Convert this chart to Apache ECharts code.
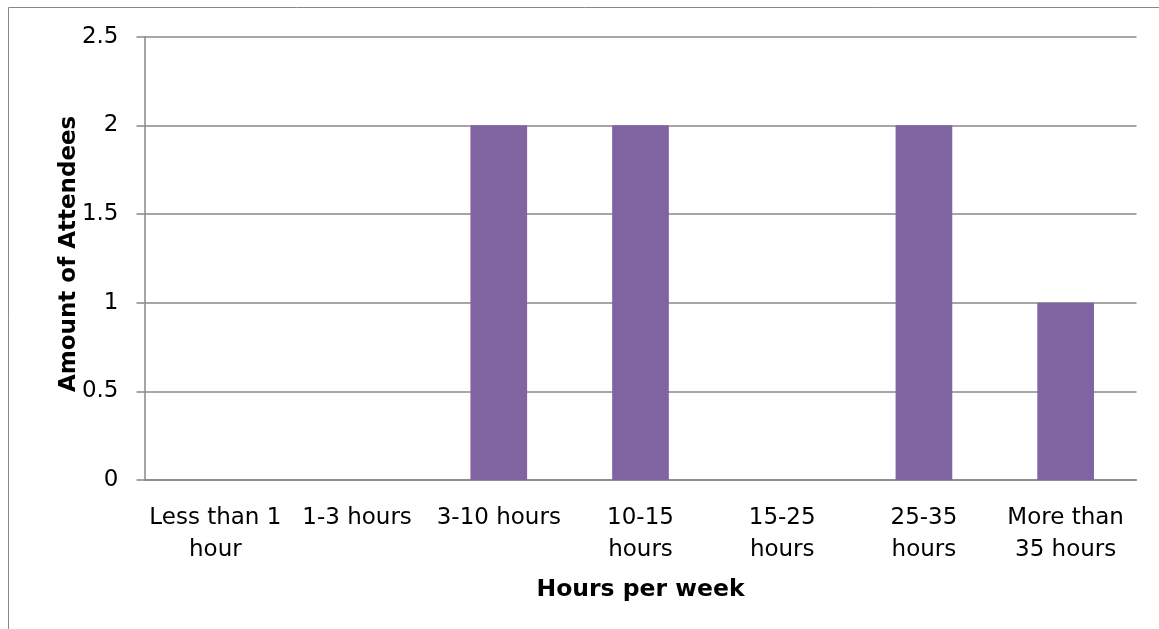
<!DOCTYPE html>
<html>
<head>
<meta charset="utf-8">
<script src="https://cdn.jsdelivr.net/npm/echarts@6/dist/echarts.min.js"></script>
<style>
html,body{margin:0;padding:0;background:#fff;}
#chart{width:1159px;height:629px;}
</style>
</head>
<body>
<div id="chart"></div>
<script>
const categories = ["Less than 1\nhour", "1-3 hours", "3-10 hours", "10-15\nhours", "15-25\nhours", "25-35\nhours", "More than\n35 hours"];
const attendees = [0, 0, 2, 2, 0, 2, 1];
const yTicks = [0, 0.5, 1, 1.5, 2, 2.5];
const xTitle = "Hours per week";
const yTitle = "Amount of Attendees";

const chart = echarts.init(document.getElementById('chart'), null, {renderer: 'canvas'});
const font = 'DejaVu Sans';
chart.setOption({
  animation: false,
  backgroundColor: '#fff',
  graphic: [{
    type: 'rect',
    shape: {x: 8.5, y: 7.5, width: 1300, height: 800},
    style: {fill: 'none', stroke: '#888888', lineWidth: 1},
    silent: true
  }],
  grid: {left: 144.5, right: 22.5, top: 36.7, bottom: 149, outerBoundsMode: 'none', containLabel: false},
  xAxis: {
    type: 'category',
    data: categories,
    name: xTitle,
    nameLocation: 'middle',
    nameGap: 98,
    nameMoveOverlap: false,
    nameTextStyle: {fontFamily: font, fontWeight: 'bold', fontSize: 23.5, color: '#000'},
    axisLine: {show: true, lineStyle: {color: '#888888', width: 1.5}},
    axisTick: {show: false},
    axisLabel: {interval: 0, fontFamily: font, fontSize: 23, color: '#000', lineHeight: 32, margin: 22},
    splitLine: {show: false}
  },
  yAxis: {
    type: 'value',
    min: yTicks[0],
    max: yTicks[yTicks.length - 1],
    interval: 0.5,
    name: yTitle,
    nameLocation: 'middle',
    nameGap: 64,
    nameMoveOverlap: false,
    nameRotate: 90,
    nameTextStyle: {fontFamily: font, fontWeight: 'bold', fontSize: 23, color: '#000', padding: [0, 0, 0, 9]},
    axisLine: {show: true, lineStyle: {color: '#888888', width: 1.5}},
    axisTick: {show: true, length: 8, lineStyle: {color: '#888888', width: 1.5}},
    axisLabel: {fontFamily: font, fontSize: 23, color: '#000', margin: 26},
    splitLine: {show: true, lineStyle: {color: '#888888', width: 1.5}}
  },
  series: [{
    type: 'bar',
    data: attendees,
    barWidth: '40%',
    itemStyle: {color: '#8064A2'}
  }]
});
</script>
</body>
</html>
